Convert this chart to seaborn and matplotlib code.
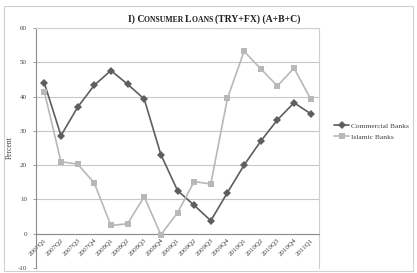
import pandas as pd
import numpy as np
import matplotlib
matplotlib.use('Agg')
import matplotlib.pyplot as plt
import seaborn as sns
from matplotlib.patches import Rectangle

quarters = ['2007Q1', '2007Q2', '2007Q3', '2007Q4', '2008Q1', '2008Q2', '2008Q3', '2008Q4',
            '2009Q1', '2009Q2', '2009Q3', '2009Q4', '2010Q1', '2010Q2', '2010Q3', '2010Q4', '2011Q1']
commercial = [44.0, 28.6, 36.9, 43.3, 47.6, 43.6, 39.3, 23.1, 12.6, 8.3, 3.8, 12.0, 20.0, 27.0, 33.2, 38.2, 35.0]
islamic = [41.4, 21.0, 20.3, 14.8, 2.4, 2.9, 10.8, -0.3, 6.1, 15.2, 14.5, 39.5, 53.2, 48.1, 43.1, 48.3, 39.3]
series_names = ['Commercial Banks', 'Islamic Banks']
yticks = [-10, 0, 10, 20, 30, 40, 50, 60]

sns.set_style('white')
plt.rcParams['font.family'] = ['Liberation Serif', 'DejaVu Serif']

df = pd.DataFrame({
    'pos': list(range(len(quarters))) * 2,
    'Percent': commercial + islamic,
    'Bank': [series_names[0]] * len(quarters) + [series_names[1]] * len(quarters),
})

W, H = 417, 273
fig = plt.figure(figsize=(W / 100, H / 100), dpi=100)
ax = fig.add_axes([36 / W, 1 - 268 / H, (319 - 36) / W, (268 - 28) / H])

sns.lineplot(data=df, x='pos', y='Percent', hue='Bank', style='Bank',
             markers={'Commercial Banks': 'D', 'Islamic Banks': 's'}, dashes=False,
             palette={'Commercial Banks': '#5e5e5e', 'Islamic Banks': '#b8b8b8'},
             linewidth=1.2, markersize=3.8, markeredgewidth=0, ax=ax, zorder=3)

# move x axis to y=0 first (this resets tick styling)
ax.spines['bottom'].set_position(('data', 0))
ax.spines['bottom'].set_color('#8c8c8c')
ax.spines['bottom'].set_linewidth(0.8)
ax.spines['left'].set_color('#8c8c8c')
ax.spines['left'].set_linewidth(0.8)
for s in ['top', 'right']:
    ax.spines[s].set_color('#d0d0d0')
    ax.spines[s].set_linewidth(0.8)

ax.set_xlim(-0.5, len(quarters) - 0.5)
ax.set_ylim(-10, 60)
ax.set_yticks(yticks)
ax.set_yticklabels([str(v) for v in yticks], fontsize=5, color='#404040')
ax.set_xticks(range(len(quarters)))
ax.set_xticklabels(quarters, rotation=45, ha='right', rotation_mode='anchor', fontsize=5, color='#404040')
ax.set_xticks(np.arange(-0.5, len(quarters), 1), minor=True)
ax.tick_params(axis='x', which='major', length=0, pad=3)
ax.tick_params(axis='x', which='minor', length=2.5, color='#8c8c8c', width=0.6, direction='out')
ax.tick_params(axis='y', length=2.5, color='#8c8c8c', width=0.6, direction='out', left=True, pad=4)
ax.set_xlabel('')
ax.set_ylabel('Percent', fontsize=5.5, color='#404040', labelpad=3)

ax.yaxis.grid(True, color='#c8c8c8', linewidth=0.8)
ax.set_axisbelow(True)

leg = ax.legend(loc='center left', bbox_to_anchor=(1.03, 0.57), frameon=False, fontsize=5.4,
                handlelength=2.0, handletextpad=0.2, labelspacing=0.6)
for t in leg.get_texts():
    t.set_color('#404040')

# outer frame
fig.patches.append(Rectangle((4 / W, 2 / H), (W - 8) / W, (H - 8) / H, transform=fig.transFigure,
                             fill=False, edgecolor='#d0d0d0', linewidth=0.8))

# small caps title
pieces = [('I) C', 7), ('ONSUMER ', 5.6), ('L', 7), ('OANS ', 5.6), ('(TRY+FX) (A+B+C)', 7)]
renderer = fig.canvas.get_renderer()
texts = []
x = 0.0
for s, size in pieces:
    t = fig.text(x / W, 1 - 22 / H, s, fontsize=size, fontweight='bold', color='#202020', va='baseline')
    bb = t.get_window_extent(renderer=renderer)
    texts.append((t, x))
    x += bb.width
start = 214 - x / 2
for t, px in texts:
    t.set_x((start + px) / W)

fig.savefig('out.png', dpi=100)
